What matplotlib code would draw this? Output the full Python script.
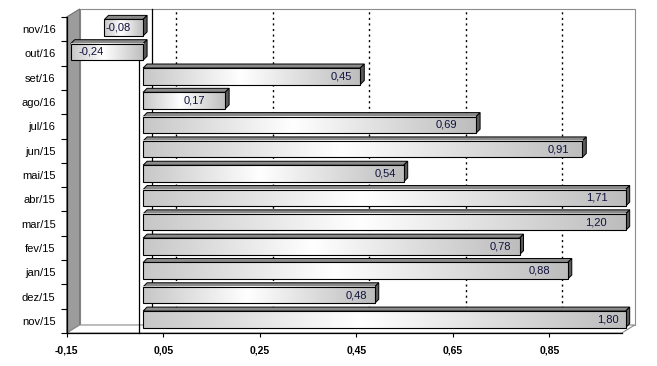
import matplotlib
matplotlib.use("Agg")

import matplotlib.pyplot as plt
import matplotlib.transforms as mtransforms
import numpy as np
from matplotlib.patches import Polygon

plt.rcParams["font.family"] = ["Liberation Sans", "DejaVu Sans"]

# ---------------------------------------------------------------------------
# Data (bottom to top)
# ---------------------------------------------------------------------------
months = ["nov/15", "dez/15", "jan/15", "fev/15", "mar/15", "abr/15", "mai/15",
          "jun/15", "jul/16", "ago/16", "set/16", "out/16", "nov/16"]
values = [1.80, 0.48, 0.88, 0.78, 1.20, 1.71, 0.54,
          0.91, 0.69, 0.17, 0.45, -0.24, -0.08]
x_ticks = [-0.15, 0.05, 0.25, 0.45, 0.65, 0.85]
x_min, x_max = -0.15, 1.0

# label inset from bar end, pixels (the original renderer is not consistent)
label_inset = [7, 8, 18, 8, 19, 18, 8, 13, 19, 20, 8, 8, 1]

W, H, DPI = 657, 366, 100

# 3D depth offsets in pixels (right, up)
BACK = (13, 8)
BAR_FRONT = (4, 1.5)
BAR_BACK = (8, 5.5)
BAR_H = 0.68

fig = plt.figure(figsize=(W / DPI, H / DPI), dpi=DPI)
ax = fig.add_axes([66.7 / W, (H - 333) / H, (621.7 - 66.7) / W, (333 - 17) / H])
ax.set_xlim(x_min, x_max)
ax.set_ylim(-0.5, len(months) - 0.5)
ax.set_autoscale_on(False)
for s in ax.spines.values():
    s.set_visible(False)
ax.patch.set_visible(False)

ident = mtransforms.IdentityTransform()


def px(x, y, off=(0, 0)):
    X, Y = ax.transData.transform((x, y))
    return (X + off[0], Y + off[1])


def shifted(off):
    return ax.transData + mtransforms.Affine2D().translate(*off)


def poly(points, **kw):
    p = Polygon(points, closed=True, transform=ident, clip_on=False, **kw)
    ax.add_patch(p)
    return p


y_lo, y_hi = -0.5, len(months) - 0.5

# back wall
poly([px(x_min, y_lo, BACK), px(x_max, y_lo, BACK), px(x_max, y_hi, BACK), px(x_min, y_hi, BACK)],
     facecolor="white", edgecolor="#8c8c8c", linewidth=0.8, zorder=0)
# left wall
poly([px(x_min, y_lo), px(x_min, y_hi), px(x_min, y_hi, BACK), px(x_min, y_lo, BACK)],
     facecolor="#9c9c9c", edgecolor="#707070", linewidth=0.8, zorder=1)
# floor
poly([px(x_min, y_lo), px(x_max, y_lo), px(x_max, y_lo, BACK), px(x_min, y_lo, BACK)],
     facecolor="white", edgecolor="#8c8c8c", linewidth=0.8, zorder=1)

# gridlines on the back wall
for t in x_ticks[1:]:
    ax.plot([t, t], [y_lo, y_hi], transform=shifted(BACK), color="black",
            linestyle=(0, (1.5, 2.5)), linewidth=1.0, clip_on=False, zorder=1)
# zero line: back and front
ax.plot([0, 0], [y_lo, y_hi], transform=shifted(BACK), color="black",
        linewidth=0.9, clip_on=False, zorder=1)
ax.plot([0, 0], [y_lo, len(months) - 2], color="black", linewidth=0.9,
        clip_on=False, zorder=1.5)

# front axes lines
ax.plot([x_min, x_max], [y_lo, y_lo], color="black", linewidth=0.9, clip_on=False, zorder=2)
ax.plot([x_min, x_min], [y_lo, y_hi], color="black", linewidth=0.9, clip_on=False, zorder=2)

# gradient for bar faces: gray -> white -> gray
grad_pos = np.array([0.0, 0.45, 1.0])
grad_val = np.array([0.78, 1.0, 0.74])
g = np.interp(np.linspace(0, 1, 256), grad_pos, grad_val)
grad = np.dstack([g, g, g])[:1]
top_g = np.interp(np.linspace(0, 1, 256), [0, 1], [0.42, 0.62])
top_grad = np.dstack([top_g, top_g, top_g])[:1]

for i, (m, v) in enumerate(zip(months, values)):
    xv = min(max(v, x_min), x_max)
    x0, x1 = min(0, xv), max(0, xv)
    yb, yt = i - BAR_H / 2, i + BAR_H / 2
    # top face
    poly([px(x0, yt, BAR_FRONT), px(x1, yt, BAR_FRONT), px(x1, yt, BAR_BACK), px(x0, yt, BAR_BACK)],
         facecolor="#8a8a8a", edgecolor="black", linewidth=0.7, zorder=3)
    # end face
    poly([px(x1, yb, BAR_FRONT), px(x1, yt, BAR_FRONT), px(x1, yt, BAR_BACK), px(x1, yb, BAR_BACK)],
         facecolor="#5a5a5a", edgecolor="black", linewidth=0.7, zorder=3)
    # front face with gradient
    im = ax.imshow(grad, extent=[x0, x1, yb, yt], aspect="auto", interpolation="bilinear",
                   transform=shifted(BAR_FRONT), zorder=3.5)
    im.set_clip_on(False)
    poly([px(x0, yb, BAR_FRONT), px(x1, yb, BAR_FRONT), px(x1, yt, BAR_FRONT), px(x0, yt, BAR_FRONT)],
         facecolor="none", edgecolor="black", linewidth=0.8, zorder=4)
    # value label
    label = f"{v:.2f}".replace(".", ",")
    if v >= 0:
        tx, ty = px(x1, i, BAR_FRONT)
        ax.text(tx - label_inset[i], ty, label, transform=ident, ha="right", va="center",
                fontsize=8, color="#10103c", zorder=5)
    else:
        tx, ty = px(x0, i, BAR_FRONT)
        ax.text(tx + label_inset[i], ty, label, transform=ident, ha="left", va="center",
                fontsize=8, color="#10103c", zorder=5)

ax.set_xticks(x_ticks)
ax.set_xticklabels([f"{t:.2f}".replace(".", ",") for t in x_ticks],
                   fontsize=7.5, fontweight="bold")
ax.tick_params(axis="x", direction="out", length=3, width=0.8, pad=6)
ax.set_yticks(range(len(months)))
ax.set_yticklabels(months, fontsize=8)
ax.set_yticks(np.arange(len(months) + 1) - 0.5, minor=True)
ax.tick_params(axis="y", which="major", length=0, pad=8)
ax.tick_params(axis="y", which="minor", direction="out", length=4, width=0.8)

fig.savefig("out.png", dpi=DPI)
